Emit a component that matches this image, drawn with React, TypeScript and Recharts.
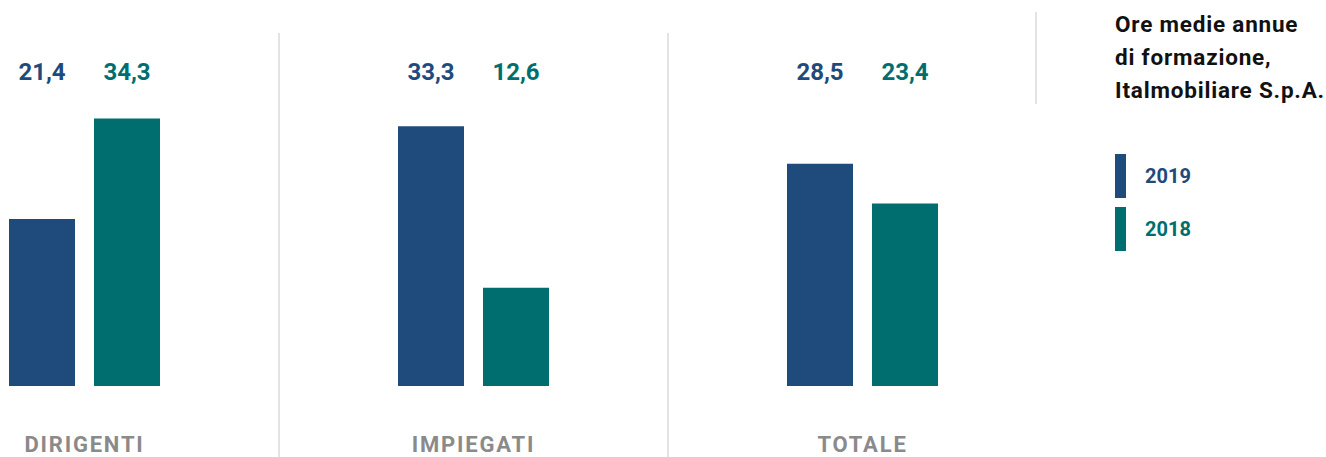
import { BarChart, Bar, XAxis, YAxis, LabelList } from 'recharts'

const categories = ['DIRIGENTI', 'IMPIEGATI', 'TOTALE']
const values2019 = [21.4, 33.3, 28.5]
const values2018 = [34.3, 12.6, 23.4]
const seriesNames = ['2019', '2018']
const titleLines = ['Ore medie annue', 'di formazione,', 'Italmobiliare S.p.A.']

const BLUE = '#1F4A7C'
const TEAL = '#006D6E'
const GRID = '#E3E3E3'

const CHART_W = 1167
const CHART_H = 457
const HALF_BAND = CHART_W / categories.length / 2

const data = categories.map((name, i) => ({
  name,
  v2019: values2019[i],
  v2018: values2018[i],
}))

const fmt = (v: number) => v.toFixed(1).replace('.', ',')

// value labels sit on one line at the top, not on the bars
const valueLabel = (color: string) => (props: any) => {
  const { x, width, value } = props
  return (
    <text
      x={Number(x) + Number(width) / 2}
      y={80}
      textAnchor="middle"
      fill={color}
      fontFamily="Roboto"
      fontWeight={700}
      fontSize={24}
    >
      {fmt(value)}
    </text>
  )
}

const CategoryTick = (props: any) => {
  const { x, payload, index } = props
  return (
    <g>
      <text
        x={x}
        y={452}
        textAnchor="middle"
        fill="#8A8A8A"
        fontFamily="Roboto"
        fontWeight={700}
        fontSize={22}
        letterSpacing={1.8}
      >
        {payload.value}
      </text>
      {index < categories.length - 1 && (
        <line
          x1={x + HALF_BAND}
          x2={x + HALF_BAND}
          y1={33}
          y2={CHART_H}
          stroke={GRID}
          strokeWidth={2}
        />
      )}
    </g>
  )
}

export default function App() {
  return (
    <div
      style={{
        position: 'absolute',
        left: 0,
        top: 0,
        width: 1326,
        height: 457,
        overflow: 'hidden',
        background: '#fff',
        fontFamily: 'Roboto',
      }}
    >
      <div style={{ position: 'absolute', left: -110, top: 0 }}>
        <BarChart
          width={CHART_W}
          height={CHART_H}
          data={data}
          margin={{ top: 74, right: 0, bottom: 0, left: 0 }}
          barSize={66}
          barGap={19}
        >
          <XAxis
            dataKey="name"
            height={71}
            axisLine={false}
            tickLine={false}
            tick={CategoryTick}
            interval={0}
          />
          <YAxis hide domain={[0, 40]} />
          <Bar dataKey="v2019" fill={BLUE} isAnimationActive={false}>
            <LabelList dataKey="v2019" content={valueLabel(BLUE)} />
          </Bar>
          <Bar dataKey="v2018" fill={TEAL} isAnimationActive={false}>
            <LabelList dataKey="v2018" content={valueLabel(TEAL)} />
          </Bar>
        </BarChart>
      </div>

      <div
        style={{
          position: 'absolute',
          left: 1035,
          top: 12,
          width: 2,
          height: 92,
          background: GRID,
        }}
      />
      <div
        style={{
          position: 'absolute',
          left: 1115,
          top: 8,
          color: '#111',
          fontWeight: 700,
          fontSize: 22.5,
          letterSpacing: 0.8,
          lineHeight: '33px',
          whiteSpace: 'nowrap',
        }}
      >
        {titleLines.map((t) => (
          <div key={t}>{t}</div>
        ))}
      </div>
      {seriesNames.map((s, i) => (
        <div
          key={s}
          style={{
            position: 'absolute',
            left: 1115,
            top: 154 + i * 53,
            height: 44,
            display: 'flex',
            alignItems: 'center',
          }}
        >
          <div style={{ width: 11, height: 44, background: i === 0 ? BLUE : TEAL }} />
          <span
            style={{
              marginLeft: 19,
              fontSize: 20,
              fontWeight: 700,
              color: i === 0 ? BLUE : TEAL,
            }}
          >
            {s}
          </span>
        </div>
      ))}
    </div>
  )
}
